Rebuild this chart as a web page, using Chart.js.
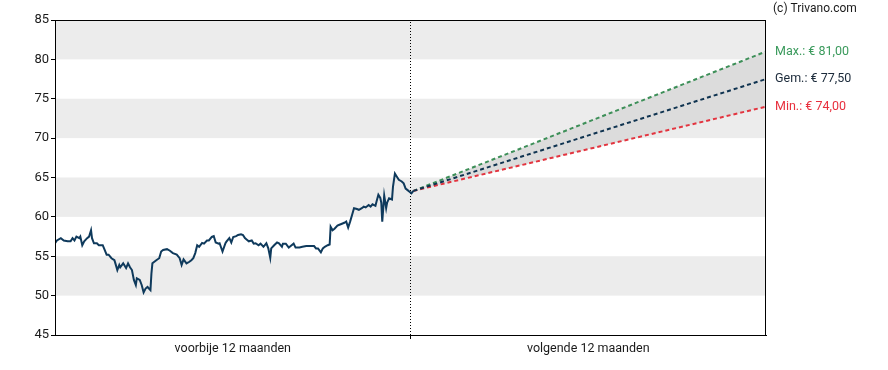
<!DOCTYPE html>
<html>
<head>
<meta charset="utf-8">
<script src="https://cdn.jsdelivr.net/npm/chart.js@4.4.1/dist/chart.umd.min.js"></script>
<style>
	html, body { margin: 0; padding: 0; background: #fff; }
	#wrap { width: 888px; height: 370px; }
</style>
</head>
<body>
<div id="wrap"><canvas id="koers"></canvas></div>
<script>
// days in the past year (0 .. 365) and closing prices
const pastDays = [0, 2, 6, 9, 13, 16, 18, 20, 22, 25, 26, 28, 30, 33, 35, 37, 38, 40, 43, 45,
	49, 51, 53, 55, 58, 61, 62, 64, 66, 67, 70, 73, 75, 77, 79, 81, 83, 84, 87, 89,
	91, 93, 95, 98, 99, 100, 102, 104, 107, 109, 111, 115, 118, 121, 125, 128, 130, 132, 135, 138,
	140, 142, 144, 146, 148, 151, 153, 156, 158, 161, 163, 165, 168, 169, 172, 175, 176, 179, 181, 183,
	186, 188, 191, 193, 195, 197, 199, 202, 204, 206, 209, 211, 214, 217, 219, 221, 222, 225, 228, 230,
	233, 234, 237, 240, 242, 245, 247, 251, 254, 258, 261, 266, 268, 270, 273, 275, 277, 280, 282, 283,
	285, 287, 290, 292, 294, 297, 299, 301, 303, 305, 307, 310, 312, 315, 317, 319, 322, 324, 326, 329,
	330, 332, 334, 335, 336, 338, 340, 341, 343, 346, 347, 349, 351, 353, 356, 358, 360, 362, 364, 366, 368];
const pastPrices = [56.65, 57.0, 57.3, 57.0, 56.9, 56.9, 57.3, 57.0, 57.5, 57.3, 57.5, 56.4, 56.9, 57.3, 57.5, 58.3, 57.3, 56.65, 56.65, 56.4,
	56.4, 55.8, 55.2, 55.2, 54.75, 54.5, 54.1, 53.25, 53.9, 53.6, 54.1, 53.5, 54.1, 53.6, 53.25, 52.0, 51.35, 52.2, 52.0, 51.35,
	50.4, 50.9, 51.1, 50.7, 52.8, 54.1, 54.3, 54.5, 54.75, 55.6, 55.8, 55.9, 55.7, 55.4, 55.2, 54.75, 53.9, 54.6, 54.1, 54.3,
	54.5, 54.75, 55.4, 56.4, 56.2, 56.7, 56.6, 57.0, 57.0, 57.45, 57.55, 56.75, 56.6, 56.65, 55.6, 56.65, 56.85, 57.3, 56.75, 57.45,
	57.55, 57.7, 57.8, 57.7, 57.3, 57.1, 56.9, 57.0, 56.6, 56.65, 56.4, 56.6, 56.2, 56.65, 56.0, 54.8, 56.0, 56.4, 56.75, 56.65,
	56.2, 56.6, 56.6, 56.1, 56.3, 56.6, 56.1, 56.1, 56.2, 56.3, 56.3, 56.3, 56.0, 56.0, 55.5, 56.0, 56.2, 56.4, 56.5, 58.75,
	58.3, 58.5, 58.9, 59.0, 59.1, 59.25, 59.4, 58.65, 59.4, 60.25, 61.1, 61.0, 60.9, 61.1, 61.3, 61.2, 61.5, 61.3, 61.6, 61.4,
	61.9, 62.8, 62.4, 61.8, 59.4, 62.7, 61.1, 61.8, 62.35, 62.2, 63.8, 65.5, 65.1, 64.7, 64.5, 64.25, 63.6, 63.4, 63.2, 63.0, 63.3];

// forecast for the next 12 months
const forecastDays = [368, 730];
const forecastMax = [63.3, 81.0];
const forecastAvg = [63.3, 77.5];
const forecastMin = [63.3, 74.0];
const forecastNames = ['Max.', 'Gem.', 'Min.'];
const forecastColors = ['#3d8f58', '#0f3350', '#e3343f'];
const labelColors = ['#3a9a5c', '#1b2a3a', '#e8303e'];

const splitDay = 365;
const xLabels = ['voorbije 12 maanden', 'volgende 12 maanden'];
const bandRanges = [[50, 55], [60, 65], [70, 75], [80, 85]];

const toXY = (days, vals) => days.map((d, i) => ({ x: d, y: vals[i] }));
const euro = v => '€ ' + v.toFixed(2).replace('.', ',');

const decor = {
	id: 'decor',
	beforeDatasetsDraw(chart) {
		const { ctx, chartArea: a, scales: { y } } = chart;
		ctx.save();
		ctx.fillStyle = '#ececec';
		bandRanges.forEach(([lo, hi]) => {
			const top = y.getPixelForValue(hi);
			const bot = y.getPixelForValue(lo);
			ctx.fillRect(a.left, top, a.right - a.left, bot - top);
		});
		ctx.restore();
	},
	afterDraw(chart) {
		const { ctx, chartArea: a, scales: { y } } = chart;
		ctx.save();
		ctx.strokeStyle = '#000';
		ctx.lineWidth = 1;
		ctx.strokeRect(Math.round(a.left) + 0.5, Math.round(a.top) + 0.5,
			Math.round(a.right - a.left) - 1, Math.round(a.bottom - a.top));
		ctx.font = '12.5px Roboto';
		ctx.textBaseline = 'middle';
		ctx.textAlign = 'left';
		const ends = [forecastMax, forecastAvg, forecastMin].map(s => s[s.length - 1]);
		ends.forEach((v, i) => {
			ctx.fillStyle = labelColors[i];
			ctx.fillText(forecastNames[i] + ': ' + euro(v), a.right + 9, y.getPixelForValue(v));
		});
		ctx.font = '12px Roboto';
		ctx.fillStyle = '#1a1a1a';
		ctx.fillText('(c) Trivano.com', 773, 9);
		ctx.restore();
	}
};

new Chart(document.getElementById('koers'), {
	type: 'line',
	data: {
		datasets: [
			{
				data: toXY(forecastDays, forecastMax),
				borderColor: forecastColors[0],
				borderWidth: 2,
				borderDash: [4, 3],
				backgroundColor: '#dcdcdc',
				fill: '+2',
				order: 9
			},
			{
				data: toXY(forecastDays, forecastAvg),
				borderColor: forecastColors[1],
				borderWidth: 2,
				borderDash: [4, 3],
				order: 2
			},
			{
				data: toXY(forecastDays, forecastMin),
				borderColor: forecastColors[2],
				borderWidth: 2,
				borderDash: [4, 3],
				order: 2
			},
			{
				data: [{ x: splitDay, y: 45 }, { x: splitDay, y: 85 }],
				borderColor: '#000',
				borderWidth: 1,
				borderDash: [1, 2],
				order: 3
			},
			{
				data: toXY(pastDays, pastPrices),
				borderColor: '#0f3a5c',
				borderWidth: 2,
				tension: 0,
				order: 1
			}
		]
	},
	options: {
		responsive: true,
		maintainAspectRatio: false,
		animation: false,
		layout: { padding: { top: 20, right: 122, left: 0, bottom: 0 } },
		elements: { point: { radius: 0 } },
		plugins: {
			legend: { display: false },
			tooltip: { enabled: false }
		},
		scales: {
			x: {
				type: 'linear',
				min: 0,
				max: 730,
				afterBuildTicks: s => { s.ticks = [{ value: splitDay / 2 }, { value: splitDay }, { value: splitDay * 1.5 }]; },
				afterFit: s => { s.height = 35; },
				border: { color: '#000' },
				grid: {
					drawOnChartArea: false,
					tickLength: 4,
					tickColor: c => (c.tick && c.tick.value === splitDay) ? '#000' : 'rgba(0,0,0,0)'
				},
				ticks: {
					autoSkip: false,
					maxRotation: 0,
					padding: 2,
					color: '#1a1a1a',
					font: { family: 'Roboto', size: 12.5 },
					callback: v => v < splitDay ? xLabels[0] : (v > splitDay ? xLabels[1] : '')
				}
			},
			y: {
				min: 45,
				max: 85,
				afterFit: s => { s.width = 55; },
				border: { color: '#000' },
				grid: { drawOnChartArea: false, tickLength: 4, tickColor: '#000' },
				ticks: {
					stepSize: 5,
					padding: 2,
					color: '#1a1a1a',
					font: { family: 'Roboto', size: 13 }
				}
			}
		}
	},
	plugins: [decor]
});
</script>
</body>
</html>
